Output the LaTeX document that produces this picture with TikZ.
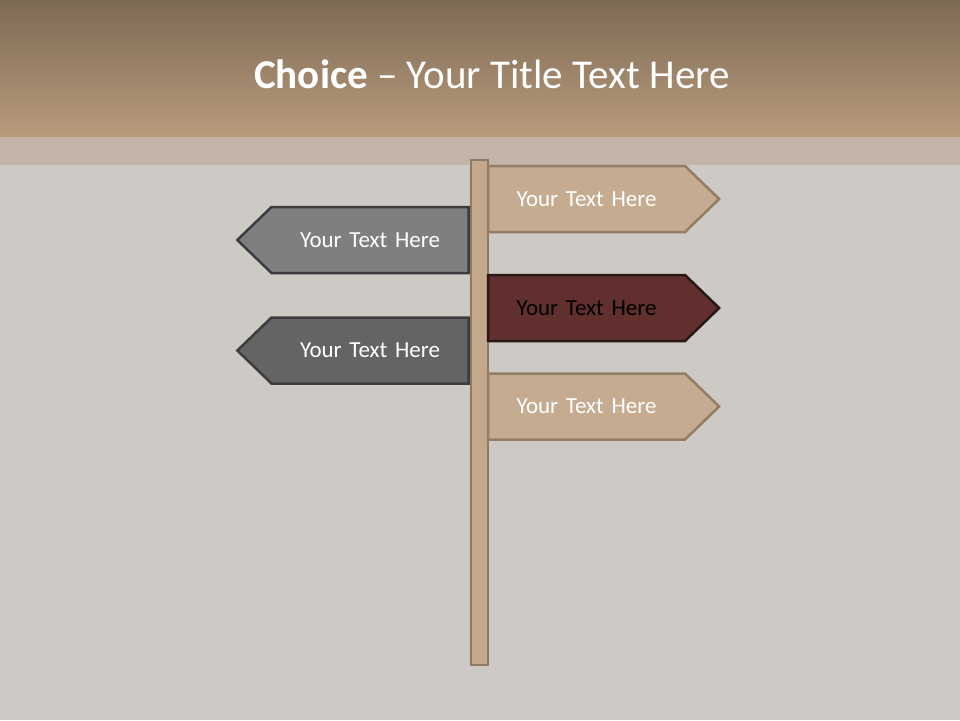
\documentclass[tikz,border=0pt]{standalone}
\usepackage{fontspec}
\setmainfont{Carlito}
\usepackage{tikz}
\usetikzlibrary{shapes.symbols}

\definecolor{bandtop}{HTML}{7D6A55}
\definecolor{bandbot}{HTML}{B99B7C}
\definecolor{stripe}{HTML}{C4B3A7}
\definecolor{board}{HTML}{CDCAC6}
\definecolor{polefill}{HTML}{C4A88B}
\definecolor{poleline}{HTML}{8E7A64}
\definecolor{tanfill}{HTML}{C5AB8F}
\definecolor{tanline}{HTML}{937D66}
\definecolor{greyA}{HTML}{7F7F7F}
\definecolor{greyB}{HTML}{646464}
\definecolor{greyline}{HTML}{3C3C3C}
\definecolor{redfill}{HTML}{622F2F}
\definecolor{redline}{HTML}{2B1616}

\begin{document}
\begin{tikzpicture}[x=1pt,y=-1pt,
	sign/.style={signal,signal from=nowhere,signal pointer angle=88,line width=2.5pt,
		text width=197pt,inner xsep=0pt,align=center,minimum height=66pt,
		font=\fontsize{23}{27}\selectfont},
	tansign/.style={sign,signal to=east,fill=tanfill,draw=tanline,text=white},
	redsign/.style={sign,signal to=east,fill=redfill,draw=redline,text=black},
	greysign/.style={sign,signal to=west,draw=greyline,text=white},
	pole/.style={draw=poleline,fill=polefill,line width=2pt,inner sep=0pt,
		minimum width=17pt,minimum height=505pt}]
			
			% background
			\useasboundingbox (0,0) rectangle (960,720);
			\fill[board] (0,0) rectangle (960,720);
			\shade[top color=bandtop,bottom color=bandbot] (0,0) rectangle (960,137);
			\fill[stripe] (0,137) rectangle (960,165);
			
			\node[anchor=base,text=white,font=\fontsize{41}{49}\selectfont] (title) at (492,88) {\textbf{Choice} -- Your Title Text Here};
			
			\node[pole] (post) at (479.5,412.5) {};
			
			\node[tansign] (right1) at (586.5,199) {Your Text Here};
			\node[redsign] (right2) at (586.5,308) {Your Text Here};
			\node[tansign] (right3) at (586.5,406.5) {Your Text Here};
			\node[greysign,fill=greyA] (left1) at (370,240) {Your Text Here};
			\node[greysign,fill=greyB] (left2) at (370,350.5) {Your Text Here};
			
		\end{tikzpicture}
\end{document}
